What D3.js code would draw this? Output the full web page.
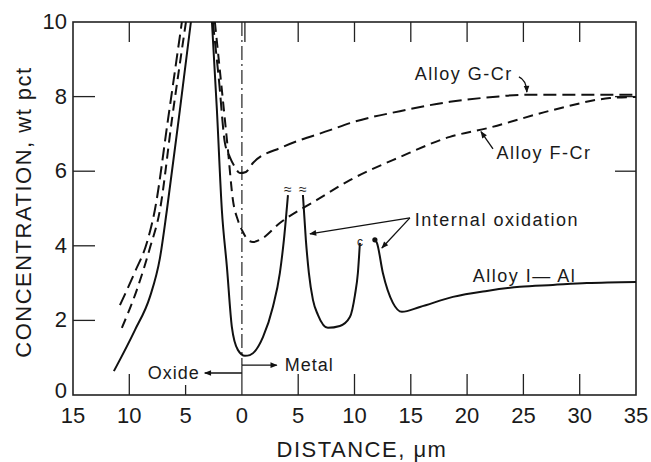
<!DOCTYPE html>
<html>
<head>
<meta charset="utf-8">
<script src="https://d3js.org/d3.v7.min.js"></script>
<style>
  body { margin: 0; background: #fff; }
  text { font-family: "Liberation Sans", Arial, sans-serif; fill: #1a1a1a; }
</style>
</head>
<body>
<script>
/***********************************************************************************/
// Data (distance in um, negative = oxide side; concentration in wt pct)

var xTicks = [-15, -10, -5, 0, 5, 10, 15, 20, 25, 30, 35];
var yTicks = [0, 2, 4, 6, 8, 10];

// Alloy I - Al, solid, split into pieces (peaks are broken at the top)
var alloyI_a = [[-11.37,0.64],[-9.50,1.74],[-8.17,2.63],[-7.28,3.67],[-6.66,4.96],[-5.51,7.64],[-4.53,10]];
var alloyI_b = [[-2.66,10],[-2.22,7.64],[-1.78,4.96],[-1.33,3.43],[-0.89,1.82],[-0.36,1.21],[0.27,1.05],
                [0.71,1.07],[1.87,1.55],[2.75,2.36],[3.37,3.27],[3.73,4.16],[4.09,5.36]];
var alloyI_c = [[5.42,5.36],[5.68,4.16],[5.95,3.27],[6.31,2.55],[6.75,2.15],[7.64,1.80],[8.70,1.85],
                [9.59,2.09],[10.04,2.68],[10.30,3.27],[10.48,4.08]];
var alloyI_d = [[11.81,4.16],[11.99,4.08],[12.52,3.27],[13.41,2.47],[14.21,2.23],[15.81,2.36],[18.74,2.63],
                [21.76,2.79],[24.69,2.90],[27.62,2.95],[30.64,3.00],[35,3.03]];

// Alloy G - Cr, dashed
var alloyG_a = [[-10.83,2.41],[-9.50,3.30],[-8.44,4.08],[-7.73,4.96],[-6.57,7.37],[-5.33,10]];
var alloyG_b = [[-2.58,10],[-2.04,8.45],[-1.51,6.76],[-1.07,6.38],[-0.62,6.11],[-0.18,5.95],[0.36,5.98],
                [0.98,6.22],[3.64,6.65],[7.82,7.10],[9.59,7.29],[14.03,7.61],[18.47,7.86],[22.29,7.99],
                [25.22,8.05],[35,8.05]];

// Alloy F - Cr, dashed
var alloyF_a = [[-10.66,1.80],[-9.33,2.82],[-8.17,3.94],[-7.28,4.96],[-6.22,7.37],[-4.97,10]];
var alloyF_b = [[-2.40,10],[-1.78,8.18],[-1.24,6.57],[-0.80,5.23],[-0.36,4.69],[0.09,4.37],[0.53,4.16],
                [0.98,4.10],[1.60,4.16],[3.37,4.61],[6.66,5.23],[9.59,5.76],[14.03,6.38],[18.47,6.92],
                [21.76,7.15],[27.62,7.64],[32.68,7.96],[35,7.99]];

/***********************************************************************************/
// Setup

var W = 651, H = 462;
var svg = d3.select('body').append('svg').attr('width', W).attr('height', H);

var x = d3.scaleLinear().domain([-15, 35]).range([73, 636]);
var y = d3.scaleLinear().domain([0, 10]).range([395, 22]);

var defs = svg.append('defs');
defs.append('marker').attr('id', 'ah').attr('viewBox', '0 0 10 10')
  .attr('refX', 9).attr('refY', 5).attr('markerWidth', 9).attr('markerHeight', 7)
  .attr('orient', 'auto').attr('markerUnits', 'userSpaceOnUse')
  .append('path').attr('d', 'M0,1 L10,5 L0,9 Z').attr('fill', '#111');

/***********************************************************************************/
// Frame and ticks

svg.append('rect').attr('x', x(-15)).attr('y', y(10))
  .attr('width', x(35) - x(-15)).attr('height', y(0) - y(10))
  .attr('fill', 'none').attr('stroke', '#222').attr('stroke-width', 1.6);

var g = svg.append('g').attr('stroke', '#222').attr('stroke-width', 1.3);
[2, 4, 6, 8].forEach(function(v){
  g.append('line').attr('x1', x(-15)).attr('x2', x(-15) + 22).attr('y1', y(v)).attr('y2', y(v));
});
[6, 8].forEach(function(v){
  g.append('line').attr('x1', x(35)).attr('x2', x(35) - 21).attr('y1', y(v)).attr('y2', y(v));
});
[-10, 0, 5, 10, 15, 20, 25, 30].forEach(function(v){
  var xx = v == 0 ? x(v) + 3 : x(v);
  g.append('line').attr('x1', xx).attr('x2', xx).attr('y1', y(10)).attr('y2', y(10) + 20);
});
[-10, -5, 5, 10, 15, 20, 25, 30].forEach(function(v){
  var len = v == -5 ? 10 : 21;
  g.append('line').attr('x1', x(v)).attr('x2', x(v)).attr('y1', y(0)).attr('y2', y(0) - len);
});

svg.selectAll('.ylab').data(yTicks).enter().append('text')
  .attr('x', x(-15) - 6).attr('y', function(d){ return d == 0 ? y(d) + 3 : y(d) + 7; })
  .attr('text-anchor', 'end').attr('font-size', 22).text(function(d){ return d; });

svg.selectAll('.xlab').data(xTicks).enter().append('text')
  .attr('x', function(d){ return x(d); }).attr('y', 423)
  .attr('text-anchor', 'middle').attr('font-size', 22).text(function(d){ return Math.abs(d); });

svg.append('text').attr('x', 362).attr('y', 457).attr('text-anchor', 'middle')
  .attr('font-size', 22).attr('letter-spacing', 1.5).text('DISTANCE, \u03bcm');

svg.append('text').attr('transform', 'translate(31,212) rotate(-90)').attr('text-anchor', 'middle')
  .attr('font-size', 22).attr('letter-spacing', 1.5).text('CONCENTRATION, wt pct');

/***********************************************************************************/
// Interface line (oxide / metal)

svg.append('line').attr('x1', x(0)).attr('x2', x(0)).attr('y1', y(10)).attr('y2', y(0.8))
  .attr('stroke', '#222').attr('stroke-width', 1.2).attr('stroke-dasharray', '14,4,2,4');
svg.append('line').attr('x1', x(0)).attr('x2', x(0)).attr('y1', y(0.8)).attr('y2', y(0))
  .attr('stroke', '#222').attr('stroke-width', 1.2);
svg.append('line').attr('x1', x(0)).attr('x2', x(3.1)).attr('y1', y(0.8)).attr('y2', y(0.8))
  .attr('stroke', '#111').attr('stroke-width', 1.3).attr('marker-end', 'url(#ah)');
svg.append('line').attr('x1', x(0)).attr('x2', x(-3.3)).attr('y1', y(0.59)).attr('y2', y(0.59))
  .attr('stroke', '#111').attr('stroke-width', 1.3).attr('marker-end', 'url(#ah)');
svg.append('text').attr('x', x(-3.75)).attr('y', y(0.59) + 6).attr('text-anchor', 'end')
  .attr('font-size', 18).attr('letter-spacing', 1).text('Oxide');
svg.append('text').attr('x', x(3.8)).attr('y', y(0.8) + 6)
  .attr('font-size', 18).attr('letter-spacing', 1).text('Metal');

/***********************************************************************************/
// Curves

var line = d3.line().x(function(d){ return x(d[0]); }).y(function(d){ return y(d[1]); })
  .curve(d3.curveMonotoneX);

function draw(data, dash){
  svg.append('path').datum(data).attr('d', line).attr('fill', 'none')
    .attr('stroke', '#111').attr('stroke-width', 2)
    .attr('stroke-dasharray', dash).attr('stroke-linecap', 'butt');
}
[alloyI_a, alloyI_b, alloyI_c, alloyI_d].forEach(function(d){ draw(d, null); });
[alloyG_a, alloyG_b].forEach(function(d){ draw(d, '13,6'); });
[alloyF_a, alloyF_b].forEach(function(d){ draw(d, '10,6'); });

// break marks on the internal oxidation peaks
[alloyI_b[alloyI_b.length - 1], alloyI_c[0]].forEach(function(p){
  svg.append('text').attr('x', x(p[0])).attr('y', y(p[1]) - 1).attr('text-anchor', 'middle')
    .attr('font-size', 14).text('\u2248');
});
var p3 = alloyI_c[alloyI_c.length - 1];
svg.append('text').attr('x', x(p3[0])).attr('y', y(p3[1]) + 3).attr('text-anchor', 'middle')
  .attr('font-size', 12).text('c');
var p4 = alloyI_d[0];
svg.append('circle').attr('cx', x(p4[0])).attr('cy', y(p4[1])).attr('r', 2.6).attr('fill', '#111');

/***********************************************************************************/
// Labels and leaders

svg.append('text').attr('x', x(15.36)).attr('y', y(4.72) + 7)
  .attr('font-size', 18).attr('letter-spacing', 1.5).text('Internal oxidation');
[[6.04, 4.32], [12.43, 3.94]].forEach(function(t){
  svg.append('line').attr('x1', x(14.92)).attr('y1', y(4.75)).attr('x2', x(t[0])).attr('y2', y(t[1]))
    .attr('stroke', '#111').attr('stroke-width', 1.3).attr('marker-end', 'url(#ah)');
});

svg.append('text').attr('x', x(15.36)).attr('y', y(8.63) + 7)
  .attr('font-size', 18).attr('letter-spacing', 1.5).text('Alloy G-Cr');
svg.append('path')
  .attr('d', 'M' + x(24.6) + ',' + y(8.53) + ' Q' + x(25.25) + ',' + y(8.45) + ' ' + x(25.31) + ',' + y(8.12))
  .attr('fill', 'none').attr('stroke', '#111').attr('stroke-width', 1.3).attr('marker-end', 'url(#ah)');

svg.append('text').attr('x', x(22.6)).attr('y', y(6.51) + 7)
  .attr('font-size', 18).attr('letter-spacing', 1.5).text('Alloy F-Cr');
svg.append('line').attr('x1', x(22.3)).attr('y1', y(6.6)).attr('x2', x(21.23)).attr('y2', y(7.06))
  .attr('stroke', '#111').attr('stroke-width', 1.3).attr('marker-end', 'url(#ah)');

svg.append('text').attr('x', x(20.5)).attr('y', y(3.22) + 7)
  .attr('font-size', 18).attr('letter-spacing', 1.5).text('Alloy I\u2014 Al');
</script>
</body>
</html>
